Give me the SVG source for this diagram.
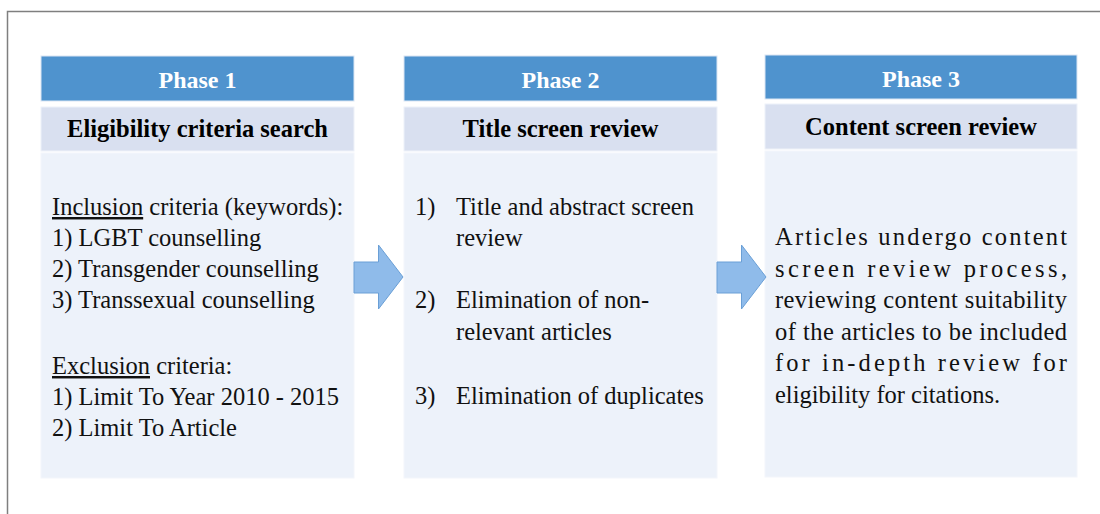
<svg xmlns="http://www.w3.org/2000/svg" width="1100" height="514" viewBox="0 0 1100 514">
<style>
.hdr{fill:#4f93ce;stroke:#dbe6f4;stroke-width:1}
.sub{fill:#d9e0f0;stroke:#eef2f9;stroke-width:1}
.body{fill:#edf2fa;stroke:#f3f6fb;stroke-width:1}
.ht{font-weight:bold;font-size:24px;fill:#ffffff;text-anchor:middle}
.st{font-weight:bold;font-size:24.5px;fill:#000000;text-anchor:middle}
.bt{font-size:24.5px;fill:#111111}
.arrow{fill:#8fbbea;stroke:#6a9fd6;stroke-width:1}
</style>
<rect x="0" y="0" width="1100" height="514" fill="#ffffff"/>
<path d="M7.5,514 V11.5 H1100" fill="none" stroke="#7f7f7f" stroke-width="1.5"/>

<g id="phase1" font-family="Liberation Serif, Times New Roman, serif">
  <rect class="hdr" x="41" y="56" width="313" height="45"/>
  <text class="ht" x="197.5" y="88">Phase 1</text>
  <rect class="sub" x="41" y="107" width="313" height="44"/>
  <text class="st" x="197.5" y="137">Eligibility criteria search</text>
  <rect class="body" x="41" y="153" width="313" height="325"/>
  <text class="bt" x="52" y="215"><tspan text-decoration="underline">Inclusion</tspan> criteria (keywords):</text>
  <text class="bt" x="52" y="246">1) LGBT counselling</text>
  <text class="bt" x="52" y="277">2) Transgender counselling</text>
  <text class="bt" x="52" y="308">3) Transsexual counselling</text>
  <text class="bt" x="52" y="374"><tspan text-decoration="underline">Exclusion</tspan> criteria:</text>
  <text class="bt" x="52" y="405">1) Limit To Year 2010 - 2015</text>
  <text class="bt" x="52" y="436">2) Limit To Article</text>
</g>

<g id="phase2" font-family="Liberation Serif, Times New Roman, serif">
  <rect class="hdr" x="404" y="56" width="313" height="45"/>
  <text class="ht" x="560.5" y="88">Phase 2</text>
  <rect class="sub" x="404" y="107" width="313" height="44"/>
  <text class="st" x="560.5" y="137">Title screen review</text>
  <rect class="body" x="404" y="153" width="313" height="325"/>
  <text class="bt" x="415" y="215">1)</text>
  <text class="bt" x="456" y="215">Title and abstract screen</text>
  <text class="bt" x="456" y="246">review</text>
  <text class="bt" x="415" y="308">2)</text>
  <text class="bt" x="456" y="308">Elimination of non-</text>
  <text class="bt" x="456" y="340">relevant articles</text>
  <text class="bt" x="415" y="404">3)</text>
  <text class="bt" x="456" y="404">Elimination of duplicates</text>
</g>

<g id="phase3" font-family="Liberation Serif, Times New Roman, serif">
  <rect class="hdr" x="765" y="55" width="312" height="44"/>
  <text class="ht" x="921" y="87">Phase 3</text>
  <rect class="sub" x="765" y="104" width="312" height="45"/>
  <text class="st" x="921" y="135">Content screen review</text>
  <rect class="body" x="765" y="151" width="312" height="326"/>
  <text class="bt" x="775" y="245" textLength="292" lengthAdjust="spacing">Articles undergo content</text>
  <text class="bt" x="775" y="277" textLength="292" lengthAdjust="spacing">screen review process,</text>
  <text class="bt" x="775" y="308" textLength="292" lengthAdjust="spacing">reviewing content suitability</text>
  <text class="bt" x="775" y="340" textLength="292" lengthAdjust="spacing">of the articles to be included</text>
  <text class="bt" x="775" y="371" textLength="292" lengthAdjust="spacing">for in-depth review for</text>
  <text class="bt" x="775" y="403">eligibility for citations.</text>
</g>

<g id="connectors">
  <path class="arrow" d="M354,262 H378.5 V245 L403,277 L378.5,309 V293 H354 Z"/>
  <path class="arrow" d="M717,262 H741.5 V245 L766,277 L741.5,309 V293 H717 Z"/>
</g>
</svg>
